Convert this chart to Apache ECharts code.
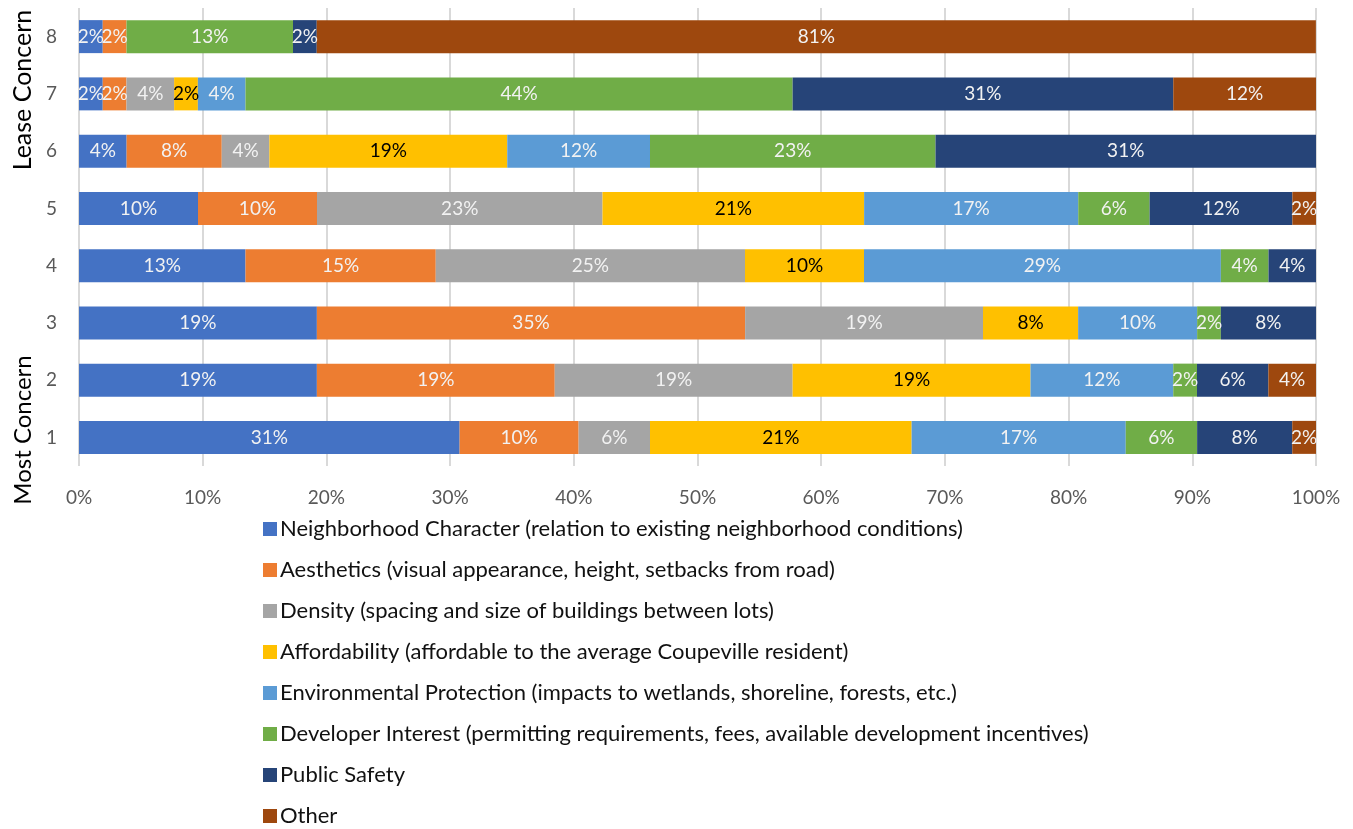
<!DOCTYPE html>
<html>
<head>
<meta charset="utf-8">
<script src="https://cdn.jsdelivr.net/npm/echarts@6/dist/echarts.min.js"></script>
<style>
  html, body { margin: 0; padding: 0; background: #fff; }
  #chart { width: 1353px; height: 829px; }
</style>
</head>
<body>
<div id="chart"></div>
<script>
// Concern ranks (1 = most concern, 8 = least concern)
const ranks = ['1', '2', '3', '4', '5', '6', '7', '8'];

// Share of respondents (%) choosing each component at each rank
const neighborhood  = [30.77, 19.23, 19.23, 13.46,  9.62,  3.85,  1.92,  1.92];
const aesthetics    = [ 9.62, 19.23, 34.62, 15.38,  9.62,  7.69,  1.92,  1.92];
const density       = [ 5.77, 19.23, 19.23, 25.00, 23.08,  3.85,  3.85,  0];
const affordability = [21.15, 19.23,  7.69,  9.62, 21.15, 19.23,  1.92,  0];
const environment   = [17.31, 11.54,  9.62, 28.85, 17.31, 11.54,  3.85,  0];
const developer     = [ 5.77,  1.92,  1.92,  3.85,  5.77, 23.08, 44.23, 13.46];
const safety        = [ 7.69,  5.77,  7.69,  3.85, 11.54, 30.77, 30.77,  1.92];
const other         = [ 1.92,  3.85,  0,     0,     1.92,  0,    11.54, 80.77];

const seriesNames = [
  'Neighborhood Character (relation to existing neighborhood conditions)',
  'Aesthetics (visual appearance, height, setbacks from road)',
  'Density (spacing and size of buildings between lots)',
  'Affordability (affordable to the average Coupeville resident)',
  'Environmental Protection (impacts to wetlands, shoreline, forests, etc.)',
  'Developer Interest (permitting requirements, fees, available development incentives)',
  'Public Safety',
  'Other'
];
const seriesData = [neighborhood, aesthetics, density, affordability, environment, developer, safety, other];
const colors = ['#4472C4', '#ED7D31', '#A5A5A5', '#FFC000', '#5B9BD5', '#70AD47', '#264478', '#9E480E'];
const labelColors = ['#f2f2f2', '#f2f2f2', '#f2f2f2', '#000000', '#f2f2f2', '#f2f2f2', '#f2f2f2', '#f2f2f2'];

const FONT = 'Lato, "Noto Sans", sans-serif';

const chart = echarts.init(document.getElementById('chart'), null, { renderer: 'canvas' });

const series = seriesNames.map((name, i) => ({
  name: name,
  type: 'bar',
  stack: 'total',
  barWidth: 33,
  itemStyle: { color: colors[i] },
  label: {
    show: true,
    position: 'inside',
    color: labelColors[i],
    fontFamily: FONT,
    fontSize: 19,
    formatter: p => (p.value > 0 ? Math.round(p.value) + '%' : '')
  },
  emphasis: { disabled: true },
  data: seriesData[i]
}));

chart.setOption({
  animation: false,
  color: colors,
  grid: { left: 79, right: 37, top: 8, bottom: 363, containLabel: false },
  xAxis: {
    type: 'value',
    min: 0,
    max: 100,
    interval: 10,
    axisLine: { show: false },
    axisTick: { show: false },
    splitLine: { show: true, lineStyle: { color: '#d9d9d9', width: 2 } },
    axisLabel: {
      formatter: '{value}%',
      color: '#595959',
      fontFamily: FONT,
      fontSize: 19,
      margin: 22
    }
  },
  yAxis: {
    type: 'category',
    data: ranks,
    axisLine: { show: false },
    axisTick: { show: false },
    axisLabel: {
      color: '#595959',
      fontFamily: FONT,
      fontSize: 19,
      margin: 22
    }
  },
  legend: {
    orient: 'vertical',
    left: 263,
    top: 518,
    height: 311,
    padding: 0,
    icon: 'rect',
    itemWidth: 14,
    itemHeight: 14,
    itemGap: 19,
    selectedMode: false,
    textStyle: { color: '#111', fontFamily: FONT, fontSize: 22, lineHeight: 22, padding: [0, 0, 0, -2] },
    data: seriesNames
  },
  graphic: [
    {
      type: 'text',
      x: 23,
      y: 430,
      rotation: Math.PI / 2,
      style: {
        text: 'Most Concern',
        fill: '#000',
        font: '24px ' + FONT,
        textAlign: 'center',
        textVerticalAlign: 'middle'
      }
    },
    {
      type: 'text',
      x: 23,
      y: 90,
      rotation: Math.PI / 2,
      style: {
        text: 'Lease Concern',
        fill: '#000',
        font: '25px ' + FONT,
        textAlign: 'center',
        textVerticalAlign: 'middle'
      }
    }
  ],
  series: series
});
</script>
</body>
</html>
